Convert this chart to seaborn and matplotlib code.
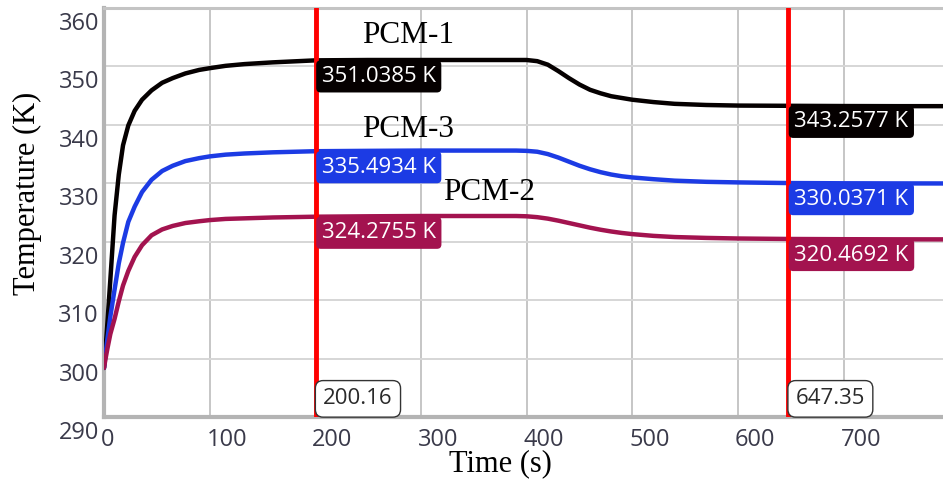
import matplotlib
matplotlib.use("Agg")
import matplotlib.pyplot as plt
import seaborn as sns
import pandas as pd
from matplotlib.transforms import ScaledTranslation

# ---------------- data ----------------
time_s = [0, 1, 3, 6, 10, 14, 18, 23, 29, 36, 45, 55, 65, 77, 90, 100, 115, 133, 160,
          200.16, 250, 300, 350, 390, 400, 410, 420, 430, 440, 450, 460, 470, 480, 490,
          500, 520, 540, 570, 600, 647.35, 700, 750, 800]

pcm1 = [298.4, 300.5, 305.5, 313.5, 324.5, 331.5, 336.5, 339.9, 342.4, 344.3, 345.9, 347.2,
        348.0, 348.8, 349.4, 349.7, 350.1, 350.4, 350.7, 351.04, 351.1, 351.1, 351.1, 351.1,
        351.1, 350.9, 350.3, 349.2, 348.0, 346.9, 346.0, 345.4, 344.9, 344.6, 344.3, 343.9,
        343.6, 343.4, 343.3, 343.26, 343.22, 343.2, 343.2]

pcm3 = [298.4, 300.0, 303.0, 307.2, 311.8, 316.3, 319.8, 323.4, 326.0, 328.5, 330.6, 332.1,
        333.0, 333.8, 334.3, 334.6, 334.9, 335.1, 335.3, 335.49, 335.55, 335.6, 335.6, 335.6,
        335.55, 335.4, 335.0, 334.4, 333.7, 333.0, 332.4, 331.9, 331.5, 331.2, 331.0, 330.7,
        330.45, 330.25, 330.15, 330.04, 330.0, 329.98, 329.97]

pcm2 = [298.4, 299.5, 301.5, 304.2, 306.8, 309.8, 312.5, 315.0, 317.4, 319.4, 321.1, 322.1,
        322.7, 323.2, 323.5, 323.7, 323.9, 324.0, 324.15, 324.28, 324.35, 324.4, 324.4, 324.4,
        324.35, 324.2, 323.95, 323.6, 323.2, 322.8, 322.4, 322.05, 321.75, 321.5, 321.3, 321.0,
        320.8, 320.65, 320.55, 320.47, 320.43, 320.41, 320.4]

series_names = ["PCM-1", "PCM-3", "PCM-2"]
series_colors = ["#050000", "#1c3be4", "#a3134f"]

marker_times = [200.16, 647.35]
marker_labels = ["200.16", "647.35"]
pcm1_readouts = [351.0385, 343.2577]
pcm3_readouts = [335.4934, 330.0371]
pcm2_readouts = [324.2755, 320.4692]

x_ticks = [0, 100, 200, 300, 400, 500, 600, 700]
y_ticks = [290, 300, 310, 320, 330, 340, 350, 360]

# PCM name labels: (time, temperature) anchor of text baseline-left
name_label_pos = {"PCM-1": (244, 354.0), "PCM-3": (244, 337.9), "PCM-2": (321, 327.2)}

# ---------------- build frame ----------------
df = pd.concat([
    pd.DataFrame({"Time": time_s, "Temperature": vals, "Series": name})
    for name, vals in zip(series_names, [pcm1, pcm3, pcm2])
], ignore_index=True)

sns.set_theme(style="white")
plt.rcParams["font.family"] = ["Open Sans", "DejaVu Sans"]

fig = plt.figure(figsize=(9.43, 4.80), dpi=100)
W, H = 943, 480
ax = fig.add_axes([104 / W, 1 - 417 / H, (W - 104) / W, 409 / H])

sns.lineplot(data=df, x="Time", y="Temperature", hue="Series",
             palette=dict(zip(series_names, series_colors)),
             linewidth=3.2, legend=False, errorbar=None, ax=ax, zorder=3)

ax.set_xlim(0, 794)
ax.set_ylim(290, 360)

# grid + spines
ax.set_xticks(x_ticks)
ax.set_yticks(y_ticks)
ax.xaxis.grid(True, color="#c6c6c6", lw=1.4)
ax.yaxis.grid(True, color="#d6d6d6", lw=1.4)
ax.set_axisbelow(True)
for side in ["left", "bottom"]:
    ax.spines[side].set_color("#b4b4b4")
    ax.spines[side].set_linewidth(3.0)
ax.spines["top"].set_color("#c4c4c4")
ax.spines["top"].set_linewidth(2.2)
ax.spines["right"].set_visible(False)

tick_color = "#3a3a4a"
ax.tick_params(axis="x", length=0, pad=8, labelsize=17, labelcolor=tick_color)
ax.tick_params(axis="y", length=0, pad=3.6, labelsize=17, labelcolor=tick_color)
ax.set_xticklabels([str(v) for v in x_ticks])
ax.set_yticklabels([str(v) for v in y_ticks])
for lab in ax.get_xticklabels():
    lab.set_ha("left")
    lab.set_transform(lab.get_transform() + ScaledTranslation(-3 / 100, 0, fig.dpi_scale_trans))
for lab in ax.get_yticklabels():
    lab.set_va("top")
    lab.set_transform(lab.get_transform() + ScaledTranslation(0, -4 / 100, fig.dpi_scale_trans))

# axis labels (serif)
ax.set_xlabel("Time (s)", family="Liberation Serif", fontsize=22, color="black")
ax.set_ylabel("Temperature (K)", family="Liberation Serif", fontsize=22, color="black")
ax.xaxis.set_label_coords((500 - 104) / (W - 104), -(449 - 417) / 409)
ax.yaxis.set_label_coords((42 - 104) / (W - 104), (417 - 193) / 409)

# red cursor lines with time readouts
for t, lab in zip(marker_times, marker_labels):
    ax.axvline(t, color="#ff0000", lw=3.5, zorder=4)
    ax.annotate(lab, xy=(t, 290), xytext=(5.5, 5.5), textcoords="offset points",
                ha="left", va="bottom", fontsize=16, color="#2a2a2a", zorder=6,
                bbox=dict(boxstyle="round,pad=0.35,rounding_size=0.35", fc="white",
                          ec="#333333", lw=1.0))

# value readouts
for vals, color in zip([pcm1_readouts, pcm3_readouts, pcm2_readouts], series_colors):
    for t, v in zip(marker_times, vals):
        ax.annotate(f"{v:.4f} K", xy=(t, v), xytext=(4.5, -4.0), textcoords="offset points",
                    ha="left", va="top", fontsize=16, color="white", zorder=6,
                    bbox=dict(boxstyle="round,pad=0.25,rounding_size=0.2", fc=color, ec="none"))

# series name labels
for name in series_names:
    tx, ty = name_label_pos[name]
    ax.text(tx, ty, name, family="Liberation Serif", fontsize=22.5, color="black",
            ha="left", va="baseline", zorder=6)

fig.savefig("out.png", dpi=100)
